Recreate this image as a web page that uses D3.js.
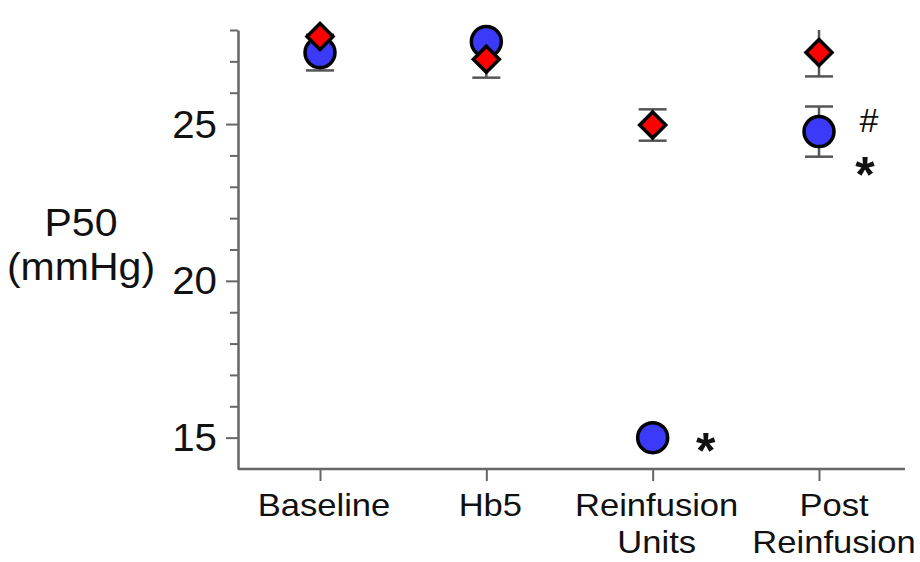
<!DOCTYPE html>
<html>
<head>
<meta charset="utf-8">
<script src="https://cdn.jsdelivr.net/npm/d3@7"></script>
<style>
    body { margin: 0; background: #fff; }
    svg { display: block; }
    text { font-family: "Liberation Sans", Arial, sans-serif; fill: #111; }
</style>
</head>
<body>
<svg id="chart" width="920" height="562"></svg>
<script>
// categories and their label lines
const categories = ["Baseline", "Hb5", "Reinfusion Units", "Post Reinfusion"];
const categoryLines = [["Baseline"], ["Hb5"], ["Reinfusion", "Units"], ["Post", "Reinfusion"]];

// blue circles
const blueMean = [27.28, 27.63, 15.0, 24.76];
const blueErr = [0.57, 0.2, 0, 0.8];

// red diamonds
const redMean = [27.79, 27.07, 24.97, 27.28];
const redErr = [0, 0.59, 0.5, 0.76];

// y axis
const yDomain = [14, 28];
const yMajorTicks = [15, 20, 25];
const yMinorTicks = [16, 17, 18, 19, 21, 22, 23, 24, 26, 27, 28];
const yLabelLines = ["P50", "(mmHg)"];

// significance marks: [category index, series, symbol]
const marks = [
    [2, "blue", "*"],
    [3, "blue", "#"],
    [3, "blue", "*"]
];

const svg = d3.select("#chart");
const axisColor = "#666";

const x = d3.scalePoint().domain(categories).range([320, 819]);
const y = d3.scaleLinear().domain(yDomain).range([469, 30]);

// y axis (minor then major)
const yMinor = svg.append("g")
    .attr("transform", "translate(238,0)")
    .call(d3.axisLeft(y).tickValues(yMinorTicks).tickSize(8).tickSizeOuter(0).tickFormat(""));

const yMajor = svg.append("g")
    .attr("transform", "translate(238,0)")
    .call(d3.axisLeft(y).tickValues(yMajorTicks).tickSize(12).tickSizeOuter(0));

yMinor.select(".domain").remove();
yMajor.select(".domain").attr("stroke", axisColor).attr("stroke-width", 2.5);
svg.selectAll(".tick line").attr("stroke", axisColor).attr("stroke-width", 2);

yMajor.selectAll(".tick text")
    .attr("x", null)
    .attr("dy", null)
    .attr("transform", "translate(-21,13) scale(1.06,1)")
    .style("font-size", "38px")
    .style("font-family", "'Liberation Sans', Arial, sans-serif")
    .attr("fill", "#111");

// y axis title
yLabelLines.forEach((t, i) => {
    svg.append("text")
        .attr("text-anchor", "middle")
        .attr("transform", `translate(81,${236 + i * 44}) scale(1.08,1)`)
        .style("font-size", "38px")
        .text(t);
});

// x axis
svg.append("line")
    .attr("x1", 238).attr("x2", 905)
    .attr("y1", 469).attr("y2", 469)
    .attr("stroke", axisColor)
    .attr("stroke-width", 2.5);

const xAxis = svg.append("g")
    .attr("transform", "translate(0,469)")
    .call(d3.axisBottom(x).tickSize(12).tickSizeOuter(0).tickFormat(""));
xAxis.select(".domain").remove();
xAxis.selectAll(".tick line").attr("stroke", axisColor).attr("stroke-width", 2);

categories.forEach((c, i) => {
    const shift = i === categories.length - 1 ? 15 : 4;
    categoryLines[i].forEach((t, j) => {
        svg.append("text")
            .attr("text-anchor", "middle")
            .attr("transform", `translate(${x(c) + shift},${516 + j * 37}) scale(1.08,1)`)
            .style("font-size", "32px")
            .text(t);
    });
});

// error bars, behind all markers
function drawErrors(means, errs) {
    const g = svg.append("g")
        .attr("stroke", "#555")
        .attr("stroke-width", 2.5);
    means.forEach((m, i) => {
        const e = errs[i];
        if (!e) return;
        const cx = x(categories[i]);
        const hi = Math.min(m + e, yDomain[1]);
        const lo = m - e;
        g.append("line")
            .attr("x1", cx).attr("x2", cx)
            .attr("y1", y(hi)).attr("y2", y(lo));
        g.append("line")
            .attr("x1", cx - 14).attr("x2", cx + 14)
            .attr("y1", y(lo)).attr("y2", y(lo));
        if (m + e <= yDomain[1]) {
            g.append("line")
                .attr("x1", cx - 14).attr("x2", cx + 14)
                .attr("y1", y(hi)).attr("y2", y(hi));
        }
    });
}
drawErrors(blueMean, blueErr);
drawErrors(redMean, redErr);

// blue circles
svg.append("g")
    .selectAll("circle")
    .data(blueMean)
    .enter()
    .append("circle")
    .attr("cx", (d, i) => x(categories[i]))
    .attr("cy", (d) => y(d))
    .attr("r", 15)
    .attr("fill", "#3a3af8")
    .attr("stroke", "#000")
    .attr("stroke-width", 3.5);

// red diamonds
const h = 13;
svg.append("g")
    .selectAll("path")
    .data(redMean)
    .enter()
    .append("path")
    .attr("d", `M0,${-h}L${h},0L0,${h}L${-h},0Z`)
    .attr("transform", (d, i) => `translate(${x(categories[i])},${y(d)})`)
    .attr("fill", "#ff0000")
    .attr("stroke", "#000")
    .attr("stroke-width", 3.5)
    .attr("stroke-linejoin", "miter");

// significance marks
marks.forEach(([ci, series, sym]) => {
    const v = series === "blue" ? blueMean[ci] : redMean[ci];
    const cx = x(categories[ci]);
    const cy = y(v);
    if (sym === "#") {
        svg.append("text")
            .attr("text-anchor", "middle")
            .attr("x", cx + 50)
            .attr("y", cy)
            .style("font-size", "34px")
            .text(sym);
    } else {
        const dy = ci === 3 ? 35 : 5;
        const dx = ci === 3 ? 46 : 53;
        svg.append("text")
            .attr("text-anchor", "middle")
            .attr("x", cx + dx)
            .attr("y", cy + dy + 25)
            .style("font-size", "50px")
            .style("font-weight", "bold")
            .text(sym);
    }
});
</script>
</body>
</html>
